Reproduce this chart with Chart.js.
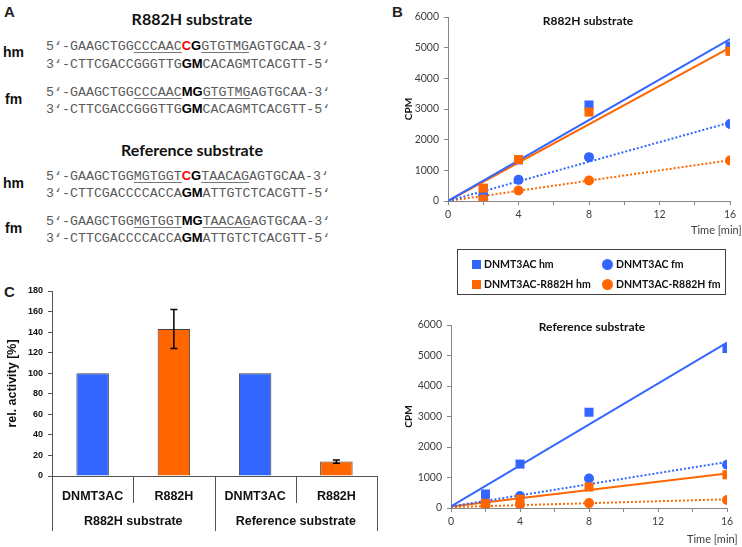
<!DOCTYPE html>
<html lang="en">
<head>
  <meta charset="UTF-8" />
  <title>DNMT3AC R882H activity</title>
  <script src="https://cdn.jsdelivr.net/npm/chart.js"></script>
  <style>
    body {
      margin: 0;
      width: 742px;
      height: 547px;
      position: relative;
      overflow: hidden;
      background: #fff;
      font-family: Lato, sans-serif;
    }
    canvas, .t { position: absolute; }
    .panel { font: bold 15px "Liberation Sans", Arial, sans-serif; color: #222; }
    .title { font: bold 16px Lato, sans-serif; color: #111; text-align: center; width: 220px; }
    .strand { font: bold 14px "Liberation Sans", Arial, sans-serif; color: #111; }
    .seq {
      font: 13.3px "Liberation Mono", "Courier New", monospace;
      color: #5a5a5a;
      white-space: pre;
      line-height: 16px;
    }
    .seq u { text-decoration-color: #777; text-underline-offset: 2px; }
    .seq b { font: bold 13px "Liberation Sans", Arial, sans-serif; color: #000; }
    .seq b.r { color: #ff0000; }
    .inner { font: bold 12px Lato, sans-serif; color: #111; text-align: center; }
    .time { font: 11px Lato, sans-serif; color: #404040; }
    #legend {
      left: 457px; top: 249px; width: 267px; height: 44px;
      border: 1px solid #404040;
      font: bold 10.5px Lato, sans-serif; color: #111;
    }
    #legend .it { position: absolute; display: flex; align-items: center; gap: 3px; }
    #legend .mk { display: inline-block; width: 9px; height: 9px; }
  </style>
</head>
<body>
  <!-- A: substrates -->
  <div class="t panel" style="left:4px;top:3px">A</div>
  <div class="t title" style="left:82px;top:9px">R882H substrate</div>
  <div class="t strand" style="left:3px;top:44px">hm</div>
  <div class="t seq" style="left:46px;top:38px">5‘-GAAGCTGG<u>CCCAAC</u><b class="r">C</b><b>G</b><u>GTGTMG</u>AGTGCAA-3‘</div>
  <div class="t seq" style="left:46px;top:56px">3‘-CTTCGACCGGGTTG<b>GM</b>CACAGMTCACGTT-5‘</div>
  <div class="t strand" style="left:5px;top:91px">fm</div>
  <div class="t seq" style="left:46px;top:84px">5‘-GAAGCTGG<u>CCCAAC</u><b>MG</b><u>GTGTMG</u>AGTGCAA-3‘</div>
  <div class="t seq" style="left:46px;top:101px">3‘-CTTCGACCGGGTTG<b>GM</b>CACAGMTCACGTT-5‘</div>

  <div class="t title" style="left:82px;top:140px">Reference substrate</div>
  <div class="t strand" style="left:3px;top:175px">hm</div>
  <div class="t seq" style="left:46px;top:168px">5‘-GAAGCTGG<u>MGTGGT</u><b class="r">C</b><b>G</b><u>TAACAG</u>AGTGCAA-3‘</div>
  <div class="t seq" style="left:46px;top:185px">3‘-CTTCGACCCCACCA<b>GM</b>ATTGTCTCACGTT-5‘</div>
  <div class="t strand" style="left:5px;top:220px">fm</div>
  <div class="t seq" style="left:46px;top:213px">5‘-GAAGCTGG<u>MGTGGT</u><b>MG</b><u>TAACAG</u>AGTGCAA-3‘</div>
  <div class="t seq" style="left:46px;top:230px">3‘-CTTCGACCCCACCA<b>GM</b>ATTGTCTCACGTT-5‘</div>

  <!-- B: kinetics -->
  <div class="t panel" style="left:392px;top:3px">B</div>
  <canvas id="kinTop" width="342" height="240" style="left:400px;top:0"></canvas>
  <div class="t inner" style="left:483px;top:13px;width:210px">R882H substrate</div>
  <div class="t time" style="left:691px;top:223px">Time [min]</div>
  <div class="t" id="legend"></div>
  <canvas id="kinRef" width="342" height="247" style="left:400px;top:300px"></canvas>
  <div class="t inner" style="left:487px;top:319px;width:210px">Reference substrate</div>
  <div class="t time" style="left:687px;top:532px">Time [min]</div>

  <!-- C: relative activity -->
  <div class="t panel" style="left:4px;top:283px">C</div>
  <canvas id="relAct" width="400" height="267" style="left:0;top:280px"></canvas>

  <script>
    // ---- B data (CPM vs time) ----
    const timePoints = [2, 4, 8, 16];
    const timeTicks = [0, 4, 8, 12, 16];
    const seriesNames = ['DNMT3AC hm', 'DNMT3AC fm', 'DNMT3AC-R882H hm', 'DNMT3AC-R882H fm'];
    const seriesColors = ['#3366ff', '#3366ff', '#ff6600', '#ff6600'];
    const seriesShapes = ['rect', 'circle', 'rect', 'circle'];

    // R882H substrate
    const r882hWtHm = [400, 1340, 3130, 5050];
    const r882hWtFm = [180, 690, 1430, 2510];
    const r882hMutHm = [420, 1350, 2900, 4880];
    const r882hMutFm = [60, 340, 670, 1320];
    // fitted lines, value at 0 and at 16 min
    const r882hFitStart = [0, 0, 0, 0];
    const r882hFitEnd = [5280, 2560, 5000, 1330];

    // Reference substrate
    const refWtHm = [460, 1440, 3140, 5230];
    const refWtFm = [200, 390, 970, 1420];
    const refMutHm = [150, 290, 690, 1090];
    const refMutFm = [80, 110, 160, 260];
    const refFitStart = [50, 50, 50, 30];
    const refFitEnd = [5420, 1510, 1130, 285];

    // ---- C data (relative activity) ----
    const barLabels = ['DNMT3AC', 'R882H', 'DNMT3AC', 'R882H'];
    const groupLabels = ['R882H substrate', 'Reference substrate'];
    const relActivity = [100, 143, 100, 14];
    const relError = [0, 19, 0, 1.5];
    const barColors = ['#3366ff', '#ff6600', '#3366ff', '#ff6600'];

    const axisGray = '#868686';
    const tickFont = { family: 'Lato', size: 10.5 };

    // legend for B
    const legend = document.getElementById('legend');
    const legendPos = [[14, 8], [144, 8], [14, 28], [144, 28]];
    seriesNames.forEach((name, i) => {
      const it = document.createElement('div');
      it.className = 'it';
      it.style.left = legendPos[i][0] + 'px';
      it.style.top = legendPos[i][1] + 'px';
      const mk = document.createElement('span');
      mk.className = 'mk';
      mk.style.background = seriesColors[i];
      if (seriesShapes[i] === 'circle') { mk.style.borderRadius = '50%'; mk.style.width = mk.style.height = '11px'; }
      it.appendChild(mk);
      it.appendChild(document.createTextNode(name));
      legend.appendChild(it);
    });

    function kineticChart(id, series, fitStart, fitEnd, box) {
      const datasets = [];
      series.forEach((vals, i) => {
        datasets.push({
          label: seriesNames[i],
          data: timePoints.map((t, k) => ({ x: t, y: vals[k] })),
          pointStyle: seriesShapes[i],
          pointRadius: seriesShapes[i] === 'rect' ? 6.4 : 5,
          backgroundColor: seriesColors[i],
          borderColor: seriesColors[i],
          borderWidth: 0,
          showLine: false,
          order: i < 2 ? 2 : 1
        });
        datasets.push({
          data: [{ x: 0, y: fitStart[i] }, { x: 16, y: fitEnd[i] }],
          showLine: true,
          pointRadius: 0,
          borderColor: seriesColors[i],
          borderWidth: 2,
          borderDash: i % 2 ? [2, 2] : [],
          order: 3
        });
      });

      new Chart(document.getElementById(id), {
        type: 'scatter',
        data: { datasets },
        options: {
          responsive: false,
          animation: false,
          layout: { padding: { left: 0, top: box.top, right: box.right, bottom: 0 } },
          plugins: { legend: { display: false }, tooltip: { enabled: false } },
          scales: {
            x: {
              type: 'linear', min: 0, max: 16,
              afterFit: s => { s.height = box.xh; },
              border: { color: axisGray },
              grid: { drawOnChartArea: false, tickLength: 4, color: axisGray },
              ticks: {
                stepSize: 2, padding: 3, color: '#404040', font: tickFont, maxRotation: 0,
                callback: v => timeTicks.includes(v) ? String(v) : ''
              }
            },
            y: {
              min: 0, max: 6000,
              afterFit: s => { s.width = box.yw; },
              border: { color: axisGray },
              grid: { drawOnChartArea: false, tickLength: 4, color: axisGray },
              ticks: { stepSize: 1000, padding: 5, color: '#404040', font: tickFont, callback: v => String(v) },
              title: {
                display: true, text: 'CPM', color: '#111',
                font: { family: 'Lato', size: 10, weight: 'bold' },
                padding: { top: 3, bottom: 0 }
              }
            }
          }
        }
      });
    }

    kineticChart('kinTop', [r882hWtHm, r882hWtFm, r882hMutHm, r882hMutFm],
      r882hFitStart, r882hFitEnd, { top: 17, right: 12, xh: 39, yw: 48 });
    kineticChart('kinRef', [refWtHm, refWtFm, refMutHm, refMutFm],
      refFitStart, refFitEnd, { top: 25, right: 15, xh: 39, yw: 51 });

    // C: category table under the axis + error bars
    const tablePlugin = {
      id: 'tableAndErrors',
      afterDatasetsDraw(chart) {
        const { ctx, scales: { x, y } } = chart;
        const half = (x.getPixelForValue(1) - x.getPixelForValue(0)) / 2;
        ctx.save();
        // error bars
        ctx.strokeStyle = '#000';
        ctx.lineWidth = 1.5;
        relError.forEach((e, i) => {
          if (!e) return;
          const px = x.getPixelForValue(i);
          const hi = y.getPixelForValue(relActivity[i] + e);
          const lo = y.getPixelForValue(relActivity[i] - e);
          ctx.beginPath();
          ctx.moveTo(px, hi); ctx.lineTo(px, lo);
          ctx.moveTo(px - 3.5, hi); ctx.lineTo(px + 3.5, hi);
          ctx.moveTo(px - 3.5, lo); ctx.lineTo(px + 3.5, lo);
          ctx.stroke();
        });
        // separators
        ctx.strokeStyle = '#555';
        ctx.lineWidth = 1;
        for (let i = 0; i <= barLabels.length; i++) {
          const px = Math.round(x.getPixelForValue(i) - half) + 0.5;
          ctx.beginPath();
          ctx.moveTo(px, y.bottom);
          ctx.lineTo(px, y.bottom + (i % 2 === 0 ? 55 : 27));
          ctx.stroke();
        }
        // group labels
        ctx.fillStyle = '#111';
        ctx.font = 'bold 12.5px "Liberation Sans", Arial, sans-serif';
        ctx.textAlign = 'center';
        ctx.textBaseline = 'middle';
        groupLabels.forEach((g, k) => {
          const cx = (x.getPixelForValue(2 * k) + x.getPixelForValue(2 * k + 1)) / 2;
          ctx.fillText(g, cx, y.bottom + 46);
        });
        ctx.restore();
      }
    };

    new Chart(document.getElementById('relAct'), {
      type: 'bar',
      data: {
        labels: barLabels,
        datasets: [{
          data: relActivity,
          backgroundColor: barColors,
          borderColor: '#404040',
          borderWidth: 1,
          categoryPercentage: 1,
          barPercentage: 0.4
        }]
      },
      options: {
        responsive: false,
        animation: false,
        layout: { padding: { left: 0, top: 11, right: 23, bottom: 0 } },
        plugins: { legend: { display: false }, tooltip: { enabled: false } },
        scales: {
          x: {
            afterFit: s => { s.height = 71; },
            border: { color: '#555' },
            grid: { display: false },
            ticks: {
              padding: 5, color: '#111', maxRotation: 0,
              font: { family: 'Liberation Sans', size: 12.5, weight: 'bold' }
            }
          },
          y: {
            min: 0, max: 180,
            afterFit: s => { s.width = 52; },
            border: { color: '#555' },
            grid: { drawOnChartArea: false, tickLength: 4, color: '#555' },
            ticks: {
              stepSize: 20, padding: 5, color: '#111',
              font: { family: 'Liberation Sans', size: 9, weight: 'bold' }
            },
            title: {
              display: true, text: 'rel. activity [%]', color: '#111',
              font: { family: 'Liberation Sans', size: 12.5, weight: 'bold' },
              padding: { top: 5, bottom: 0 }
            }
          }
        }
      },
      plugins: [tablePlugin]
    });
  </script>
</body>
</html>
